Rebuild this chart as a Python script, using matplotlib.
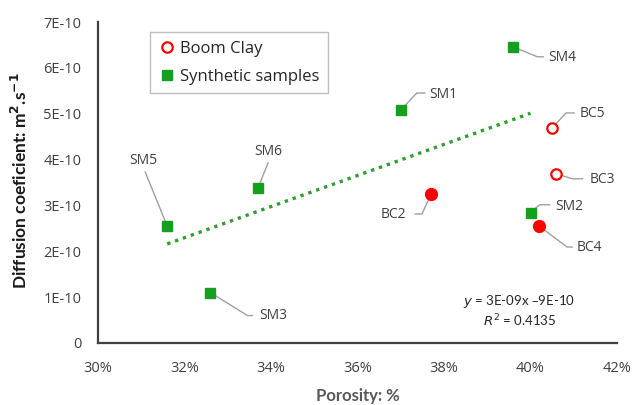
import numpy as np
import matplotlib
matplotlib.use("Agg")
import matplotlib.pyplot as plt
import matplotlib.transforms as mtransforms

# Porosity (%) and diffusion coefficient (m2/s, in units of 1E-10)
syn_names = ["SM1", "SM2", "SM3", "SM4", "SM5", "SM6"]
syn_por = [37.0, 40.0, 32.6, 39.6, 31.6, 33.7]
syn_diff = [5.08, 2.84, 1.10, 6.46, 2.55, 3.38]

bc_open_names = ["BC3", "BC5"]
bc_open_por = [40.6, 40.5]
bc_open_diff = [3.69, 4.69]

bc_fill_names = ["BC2", "BC4"]
bc_fill_por = [37.7, 40.2]
bc_fill_diff = [3.25, 2.55]

x_ticks = [30, 32, 34, 36, 38, 40, 42]
y_ticks = [0, 1, 2, 3, 4, 5, 6, 7]
y_tick_labels = ["0", "1E-10", "2E-10", "3E-10", "4E-10", "5E-10", "6E-10", "7E-10"]

eq_text = "$y$ = 3E-09x \u20139E-10"
r2_text = "$R^2$ = 0.4135"

# label placement: (elbow, end of leader, text centre) as pixel offsets from the point
label_layout = {
    "SM1": [(16, 17), (24, 17), (43, 16)],
    "SM2": [(9, 8), (19, 8), (39, 6)],
    "SM3": [(37, -23), (42, -23), (63, -23)],
    "SM4": [(24, -10), (30, -10), (49, -11)],
    "SM5": [(-22, 54), (-22, 54), (-24, 66)],
    "SM6": [(10, 25), (10, 25), (10, 37)],
    "BC2": [(-9, -20), (-16, -20), (-38, -21)],
    "BC3": [(16, -5), (26, -5), (46, -6)],
    "BC4": [(28, -21), (33, -21), (50, -21)],
    "BC5": [(14, 15), (22, 15), (40, 14)],
}

GREEN = "#13a01f"
RED = "#ff0000"
AXIS = "#404040"
LEADER = "#a0a0a0"

fig = plt.figure(figsize=(6.36, 4.05), dpi=100)
ax = fig.add_axes([98 / 636, 62 / 405, 519 / 636, 321 / 405])

ax.set_xlim(30, 42)
ax.set_ylim(0, 7)

# linear trend of the synthetic samples
coef = np.polyfit(syn_por, syn_diff, 1)
xs = np.array([min(syn_por), max(syn_por)])
ax.plot(xs, np.polyval(coef, xs), linestyle=(0, (1, 1.5)), color="#2f9e2f",
        linewidth=2.4, zorder=2)

ax.plot(bc_open_por, bc_open_diff, linestyle="none", marker="o", markersize=7.5,
        markerfacecolor="white", markeredgecolor=RED, markeredgewidth=1.6,
        label="Boom Clay", zorder=4)
ax.plot(syn_por, syn_diff, linestyle="none", marker="s", markersize=7.5,
        color=GREEN, label="Synthetic samples", zorder=4)
ax.plot(bc_fill_por, bc_fill_diff, linestyle="none", marker="o", markersize=8.5,
        color=RED, zorder=4)

# point labels with leader lines
pts = {}
for n, x, y in zip(syn_names, syn_por, syn_diff):
    pts[n] = (x, y)
for n, x, y in zip(bc_open_names, bc_open_por, bc_open_diff):
    pts[n] = (x, y)
for n, x, y in zip(bc_fill_names, bc_fill_por, bc_fill_diff):
    pts[n] = (x, y)

px = mtransforms.Affine2D().scale(fig.dpi / 100)
for name, (x, y) in pts.items():
    elbow, end, txt = label_layout[name]
    tr = px + mtransforms.ScaledTranslation(x, y, ax.transData)
    ax.plot([0, elbow[0], end[0]], [0, elbow[1], end[1]], color=LEADER,
            linewidth=1.0, transform=tr, zorder=3, clip_on=False)
    ax.text(txt[0], txt[1], name, transform=tr, ha="center", va="center",
            fontsize=10, color="#404040", family="Open Sans", zorder=5)

ax.text(0.812, 0.128, eq_text, transform=ax.transAxes, ha="center", va="center",
        fontsize=9.5, color="#262626", family="Lato")
ax.text(0.812, 0.07, r2_text, transform=ax.transAxes, ha="center", va="center",
        fontsize=9.5, color="#262626", family="Lato")

ax.set_xticks(x_ticks)
ax.set_xticklabels([f"{t}%" for t in x_ticks])
ax.set_yticks(y_ticks)
ax.set_yticklabels(y_tick_labels)
ax.tick_params(length=0, labelsize=10.5, colors="#404040")
ax.tick_params(axis="x", pad=13)
ax.tick_params(axis="y", pad=12)
for lbl in ax.get_xticklabels() + ax.get_yticklabels():
    lbl.set_family("Open Sans")

for s in ["top", "right"]:
    ax.spines[s].set_visible(False)
for s in ["left", "bottom"]:
    ax.spines[s].set_color(AXIS)
    ax.spines[s].set_linewidth(1.6)

leg = ax.legend(loc="upper left", bbox_to_anchor=(0.1, 0.968), fancybox=False,
                edgecolor="#bfbfbf", framealpha=1, prop={"family": "Open Sans", "size": 12},
                handletextpad=0.3, handlelength=1.0, labelspacing=0.75,
                borderpad=0.5, borderaxespad=0)
leg.get_frame().set_linewidth(1.0)
for t in leg.get_texts():
    t.set_color("#262626")

fig.text(20 / 636, 1 - 181 / 405, "Diffusion coeficient: m$^\\mathbf{2}$.s$^\\mathbf{-1}$",
         rotation=90, ha="center", va="center", fontsize=12.5, fontweight="bold",
         family="Lato", color="#1a1a1a")
fig.text(358 / 636, 1.5 / 405, "Porosity: %", ha="center", va="bottom",
         fontsize=12, fontweight="bold", family="Lato", color="#595959")

fig.savefig("out.png", dpi=100)
